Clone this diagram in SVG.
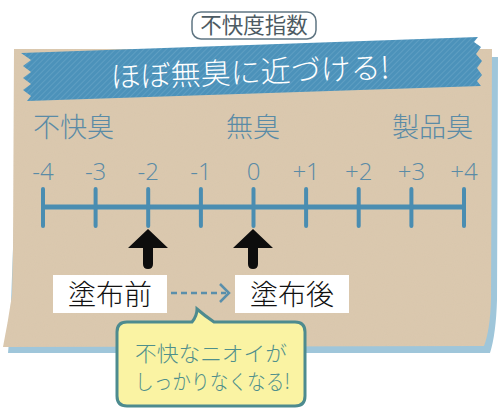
<svg xmlns="http://www.w3.org/2000/svg" width="500" height="409" viewBox="0 0 500 409">
<defs>
<pattern id="hatch" width="4" height="4" patternUnits="userSpaceOnUse" patternTransform="rotate(45)">
<rect width="4" height="4" fill="#4c92ba"/>
<line x1="0" y1="0" x2="0" y2="4" stroke="#6aa6c8" stroke-width="1.2"/>
</pattern>
<filter id="paper" x="0" y="0" width="100%" height="100%">
<feTurbulence type="fractalNoise" baseFrequency="0.9" numOctaves="2" seed="3" result="n"/>
<feColorMatrix in="n" type="matrix" values="0 0 0 0 0.6  0 0 0 0 0.5  0 0 0 0 0.4  0 0 0 0.22 -0.04" result="c"/>
<feComposite in="c" in2="SourceGraphic" operator="in" result="t"/>
<feMerge><feMergeNode in="SourceGraphic"/><feMergeNode in="t"/></feMerge>
</filter>
<style>
.lbl{font-family:"Noto Sans CJK JP","Noto Sans",sans-serif;font-weight:300;fill:#5a8ba6;font-size:27px}
.num{font-family:"Open Sans","Noto Sans",sans-serif;font-weight:300;fill:#5a8ba6;font-size:24px;text-anchor:middle}
.tick{stroke:#4a8db1;stroke-width:4;stroke-linecap:round}
.box{fill:#ffffff}
.boxt{font-family:"Noto Sans CJK JP",sans-serif;font-weight:300;font-size:28px;fill:#111;text-anchor:middle}
.arr{fill:#0d0d0d}
.bt{font-family:"Noto Sans CJK JP",sans-serif;font-weight:300;font-size:21px;fill:#4f8f8c}
</style>
</defs>
<rect width="500" height="409" fill="#ffffff"/>
<g id="card">
<path d="M20,57 L498,57 L497,300 Q496,334 490,353 L8,353 L10,330 Z" fill="#9fc6da"/>
<path d="M14,49 L492,49 L491,300 Q490,330 484,346 L3,347 Q8,322 12,295 L13,250 Z" fill="#dbc9af" filter="url(#paper)"/>
</g>
<g id="title">
<rect x="192" y="12" width="124" height="27" rx="9" fill="#ffffff" stroke="#5f7582" stroke-width="1.5"/>
<text x="254" y="33" font-family="Noto Sans CJK JP,sans-serif" font-size="21.5" fill="#4d5b63" text-anchor="middle">不快度指数</text>
</g>
<g id="tape">
<path d="M21,53 L478,37 L474,42 L481,47 L476,54 L482,61 L477,68 L482,75 L477,81 L481,86 L27,101 L31,96 L23,90 L31,84 L23,78 L31,72 L23,66 L31,60 Z" fill="url(#hatch)"/>
<text x="250" y="83" transform="rotate(-2 250 72)" font-family="Noto Sans CJK JP,sans-serif" font-weight="300" font-size="30" fill="#ffffff" text-anchor="middle">ほぼ無臭に近づける!</text>
</g>
<g id="labels">
<text class="lbl" x="33" y="137">不快臭</text>
<text class="lbl" x="253" y="137" text-anchor="middle">無臭</text>
<text class="lbl" x="473" y="137" text-anchor="end">製品臭</text>
</g>
<g id="scale">
<line x1="43" y1="207" x2="464" y2="207" stroke="#4a8db1" stroke-width="5"/>
<line class="tick" x1="43" y1="189" x2="43" y2="226"/>
<line class="tick" x1="95.6" y1="189" x2="95.6" y2="226"/>
<line class="tick" x1="148.2" y1="189" x2="148.2" y2="226"/>
<line class="tick" x1="200.9" y1="189" x2="200.9" y2="226"/>
<line class="tick" x1="253.5" y1="189" x2="253.5" y2="226"/>
<line class="tick" x1="306.1" y1="189" x2="306.1" y2="226"/>
<line class="tick" x1="358.7" y1="189" x2="358.7" y2="226"/>
<line class="tick" x1="411.4" y1="189" x2="411.4" y2="226"/>
<line class="tick" x1="464" y1="189" x2="464" y2="226"/>
<text class="num" x="43" y="180">-4</text>
<text class="num" x="95.6" y="180">-3</text>
<text class="num" x="148.2" y="180">-2</text>
<text class="num" x="200.9" y="180">-1</text>
<text class="num" x="253.5" y="180">0</text>
<text class="num" x="306.1" y="180">+1</text>
<text class="num" x="358.7" y="180">+2</text>
<text class="num" x="411.4" y="180">+3</text>
<text class="num" x="464" y="180">+4</text>
</g>
<g id="before">
<path class="arr" d="M148,229 L168,248 L153,248 L153,264 Q153,269 148,269 Q143,269 143,264 L143,248 L128,248 Z"/>
<rect class="box" x="53" y="275" width="114" height="38"/>
<text class="boxt" x="110" y="305">塗布前</text>
</g>
<g id="after">
<path class="arr" d="M253,229 L273,248 L258,248 L258,264 Q258,269 253,269 Q248,269 248,264 L248,248 L233,248 Z"/>
<rect class="box" x="235" y="275" width="114" height="38"/>
<text class="boxt" x="292" y="305">塗布後</text>
</g>
<g id="connectors">
<line x1="171" y1="293" x2="226" y2="293" stroke="#5a8fab" stroke-width="2.5" stroke-dasharray="6 4"/>
<polyline points="220,284 229,293 220,302" fill="none" stroke="#5a8fab" stroke-width="2.5"/>
</g>
<g id="bubble">
<path d="M127,322 L192,322 Q197,316 197,309 Q205,316 214,322 L295,322 Q305,322 305,332 L305,396 Q305,406 295,406 L127,406 Q117,406 117,396 L117,332 Q117,322 127,322 Z" fill="#faf3a3" stroke="#4d8b8f" stroke-width="3"/>
<text class="bt" x="135" y="361" textLength="152" lengthAdjust="spacingAndGlyphs">不快なニオイが</text>
<text class="bt" x="135" y="389" textLength="155" lengthAdjust="spacingAndGlyphs">しっかりなくなる!</text>
</g>
</svg>
